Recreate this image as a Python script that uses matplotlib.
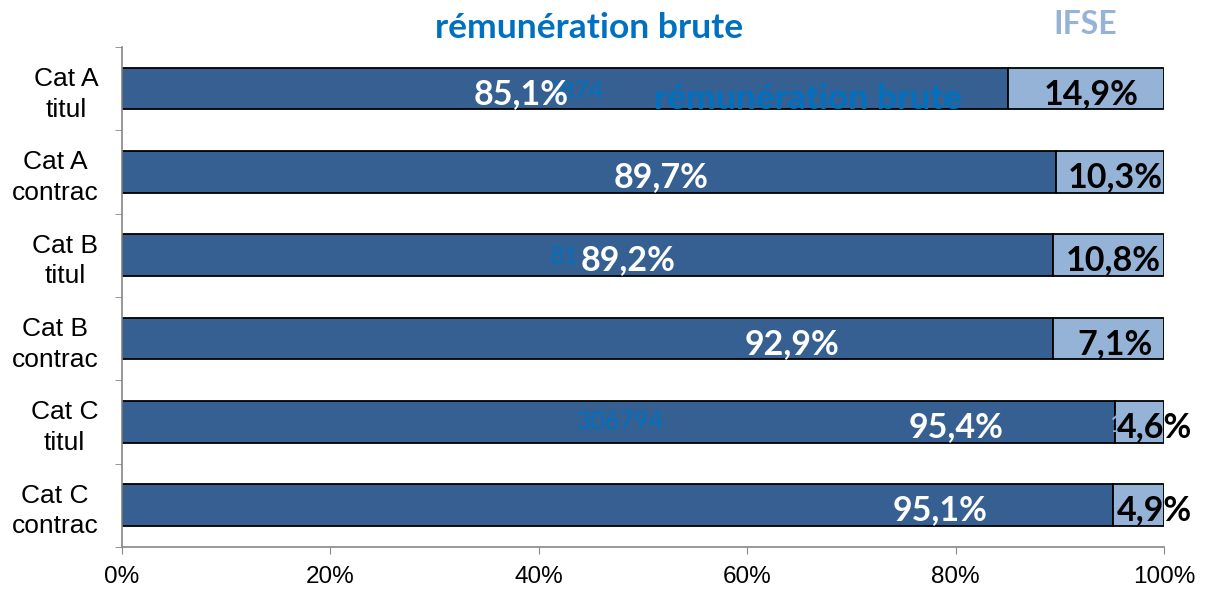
import matplotlib.pyplot as plt
from matplotlib.ticker import FixedLocator

categories = ["Cat A\ntitul", "Cat A\ncontrac", "Cat B\ntitul",
              "Cat B\ncontrac", "Cat C\ntitul", "Cat C\ncontrac"]
# bar lengths as drawn in the source chart (percent)
brut_share = [85.0, 89.6, 89.3, 89.3, 95.3, 95.1]
ifse_share = [15.0, 10.4, 10.7, 10.7, 4.7, 4.9]
# labels as printed on the bars
brut_labels = ["85,1%", "89,7%", "89,2%", "92,9%", "95,4%", "95,1%"]
ifse_labels = ["14,9%", "10,3%", "10,8%", "7,1%", "4,6%", "4,9%"]
xticks = [0, 20, 40, 60, 80, 100]
xtick_labels = ["0%", "20%", "40%", "60%", "80%", "100%"]

# label anchor positions (layout, in axis units)
brut_label_x = [38.3, 51.7, 48.6, 64.3, 80.0, 78.5]
ifse_label_x = [93.0, 95.3, 95.1, 95.3, 99.1, 99.1]

DARK = "#366092"
LIGHT = "#95B3D7"
BLUE = "#0070C0"
BOLD_FONT = "Lato"

fig = plt.figure(figsize=(12.08, 5.91), dpi=100)
ax = fig.add_axes([0.101, 0.0745, 0.8626, 0.846])

pos = list(range(len(categories)))
ax.barh(pos, brut_share, height=0.5, color=DARK, edgecolor="black", linewidth=1.3)
ax.barh(pos, ifse_share, left=brut_share, height=0.5, color=LIGHT,
        edgecolor="black", linewidth=1.3)

ax.set_xlim(0, 100)
ax.set_ylim(5.5, -0.5)

# stray value labels that show through in the original
ax.text(43.4, 0.03, "5874", color=BLUE, fontsize=18, family="Lato",
        ha="center", va="center")
ax.text(42.4, 2.02, "81", color=BLUE, fontsize=18, family="Lato",
        ha="center", va="center")
ax.text(47.8, 4.0, "306794", color=BLUE, fontsize=18, family="Lato",
        ha="center", va="center")
ax.text(95.5, 4.03, "1", color=LIGHT, fontsize=18, family="Lato",
        ha="center", va="center")
ax.text(65.8, 0.12, "rémunération brute", color=BLUE, fontsize=25.5,
        family=BOLD_FONT, weight="bold", ha="center", va="center")

for i in pos:
    ax.text(brut_label_x[i], i + 0.06, brut_labels[i], color="white",
            fontsize=24.5, family=BOLD_FONT, weight="bold", ha="center", va="center")
    ax.text(ifse_label_x[i], i + 0.06, ifse_labels[i], color="black",
            fontsize=24.5, family=BOLD_FONT, weight="bold", ha="center", va="center")

ax.set_xticks(xticks)
ax.set_xticklabels(xtick_labels, fontsize=17.5, family="Liberation Sans")
ax.set_yticks(pos)
ax.set_yticklabels(categories, fontsize=19, family="Liberation Sans",
                   multialignment="center", linespacing=1.35)
ax.yaxis.set_minor_locator(FixedLocator([p - 0.5 for p in pos] + [5.5]))
ax.tick_params(axis="y", which="major", length=0, pad=17)
ax.tick_params(axis="y", which="minor", length=5, color="#868686", direction="out")
ax.tick_params(axis="x", length=5, color="#868686", direction="out", pad=9)

for side in ["top", "right"]:
    ax.spines[side].set_visible(False)
for side in ["left", "bottom"]:
    ax.spines[side].set_color("#868686")
    ax.spines[side].set_linewidth(1.2)

fig.text(0.488, 0.953, "rémunération brute", color=BLUE, fontsize=25.5,
         family=BOLD_FONT, weight="bold", ha="center", va="center")
fig.text(0.898, 0.958, "IFSE", color=LIGHT, fontsize=23,
         family=BOLD_FONT, weight="bold", ha="center", va="center")

fig.savefig("out.png", dpi=100)
